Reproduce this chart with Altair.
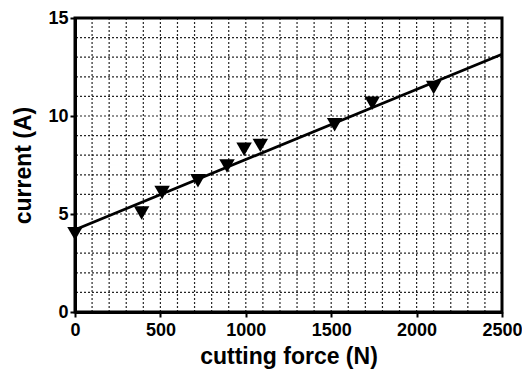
import altair as alt
import pandas as pd

force = [0, 390, 510, 720, 890, 990, 1085, 1520, 1740, 2100]
current = [4.0, 5.05, 6.1, 6.7, 7.45, 8.3, 8.5, 9.55, 10.65, 11.45]

fit_force = [0, 2500]
fit_current = [4.2, 13.15]

x_grid = list(range(100, 2500, 100))
y_grid = list(range(1, 15, 1))
x_labels = [0, 500, 1000, 1500, 2000, 2500]
y_labels = [0, 5, 10, 15]

pts = pd.DataFrame({"force": force, "current": current})
fit = pd.DataFrame({"force": fit_force, "current": fit_current})
xg = pd.DataFrame({"force": x_grid})
yg = pd.DataFrame({"current": y_grid})

FONT = "Liberation Sans"

xscale = alt.Scale(domain=[0, 2500], nice=False, zero=False)
yscale = alt.Scale(domain=[0, 15], nice=False, zero=False)

xaxis = alt.Axis(
    values=x_labels, format="d",
    labelOverlap=False, labelBound=False, labelFlush=False,
    grid=False,
    domain=True, domainColor="black", domainWidth=3,
    tickColor="black", tickSize=5, tickWidth=2,
    labelFont=FONT, labelFontWeight="bold", labelFontSize=18, labelColor="black",
    labelPadding=4,
    title="cutting force (N)", titleFont=FONT, titleFontWeight="bold",
    titleFontSize=23, titleColor="black", titlePadding=6,
)
yaxis = alt.Axis(
    values=y_labels,
    labelOverlap=False, labelBound=False, labelFlush=False,
    grid=False,
    domain=True, domainColor="black", domainWidth=3,
    tickColor="black", tickSize=5, tickWidth=2,
    labelFont=FONT, labelFontWeight="bold", labelFontSize=18, labelColor="black",
    labelPadding=2,
    title="current (A)", titleFont=FONT, titleFontWeight="bold",
    titleFontSize=23, titleColor="black", titlePadding=12,
)

vgrid = alt.Chart(xg).mark_rule(color="black", strokeWidth=1.2, strokeDash=[2, 2], opacity=0.85).encode(
    x=alt.X("force:Q", scale=xscale, axis=xaxis),
)
hgrid = alt.Chart(yg).mark_rule(color="black", strokeWidth=1.2, strokeDash=[2, 2], opacity=0.85).encode(
    y=alt.Y("current:Q", scale=yscale, axis=yaxis),
)
line = alt.Chart(fit).mark_line(color="black", strokeWidth=2.8).encode(
    x=alt.X("force:Q", scale=xscale, axis=xaxis),
    y=alt.Y("current:Q", scale=yscale, axis=yaxis),
)
points = alt.Chart(pts).mark_point(
    shape="triangle-down", filled=True, color="black", opacity=1, size=240
).encode(
    x=alt.X("force:Q", scale=xscale, axis=xaxis),
    y=alt.Y("current:Q", scale=yscale, axis=yaxis),
)

chart = (vgrid + hgrid + line + points).properties(
    width=427, height=294,
    autosize=alt.AutoSizeParams(type="none"),
    padding={"left": 67, "top": 10, "right": 20, "bottom": 57},
    background="white",
).configure_view(stroke="black", strokeWidth=3)

chart.save("out.html", embed_options={"renderer": "svg", "actions": False})
